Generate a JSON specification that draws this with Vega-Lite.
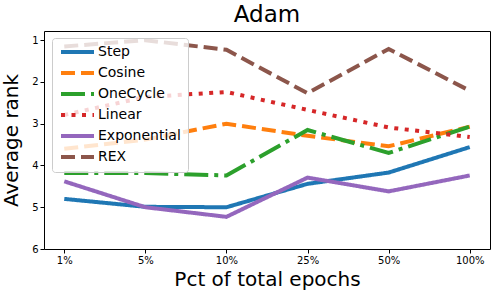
{
  "$schema": "https://vega.github.io/schema/vega-lite/v6.json",
  "autosize": {"type": "none"},
  "padding": {"left": 44, "top": 31, "right": 7, "bottom": 47},
  "width": 446,
  "height": 218,
  "title": {"text": "Adam", "fontSize": 23, "font": "DejaVu Sans", "fontWeight": "normal", "color": "#000", "offset": 4},
  "config": {
    "font": "DejaVu Sans",
    "view": {"stroke": "#000", "strokeWidth": 1},
    "axis": {"grid": false, "domain": false, "tickColor": "#000", "labelColor": "#000", "labelFontSize": 10, "titleFontSize": 20, "titleFontWeight": "normal", "titleColor": "#000", "tickSize": 4}
  },
  "data": {"values": [
    {"pct": "1%", "s": "Step", "r": 4.8},
    {"pct": "5%", "s": "Step", "r": 4.99},
    {"pct": "10%", "s": "Step", "r": 5.0},
    {"pct": "25%", "s": "Step", "r": 4.44},
    {"pct": "50%", "s": "Step", "r": 4.17},
    {"pct": "100%", "s": "Step", "r": 3.56},
    {"pct": "1%", "s": "Cosine", "r": 3.6},
    {"pct": "5%", "s": "Cosine", "r": 3.38},
    {"pct": "10%", "s": "Cosine", "r": 3.0},
    {"pct": "25%", "s": "Cosine", "r": 3.29},
    {"pct": "50%", "s": "Cosine", "r": 3.54},
    {"pct": "100%", "s": "Cosine", "r": 3.07},
    {"pct": "1%", "s": "OneCycle", "r": 4.18},
    {"pct": "5%", "s": "OneCycle", "r": 4.18},
    {"pct": "10%", "s": "OneCycle", "r": 4.24},
    {"pct": "25%", "s": "OneCycle", "r": 3.15},
    {"pct": "50%", "s": "OneCycle", "r": 3.7},
    {"pct": "100%", "s": "OneCycle", "r": 3.07},
    {"pct": "1%", "s": "Linear", "r": 2.79},
    {"pct": "5%", "s": "Linear", "r": 2.36},
    {"pct": "10%", "s": "Linear", "r": 2.24},
    {"pct": "25%", "s": "Linear", "r": 2.67},
    {"pct": "50%", "s": "Linear", "r": 3.09},
    {"pct": "100%", "s": "Linear", "r": 3.32},
    {"pct": "1%", "s": "Exponential", "r": 4.38},
    {"pct": "5%", "s": "Exponential", "r": 5.0},
    {"pct": "10%", "s": "Exponential", "r": 5.23},
    {"pct": "25%", "s": "Exponential", "r": 4.29},
    {"pct": "50%", "s": "Exponential", "r": 4.62},
    {"pct": "100%", "s": "Exponential", "r": 4.24},
    {"pct": "1%", "s": "REX", "r": 1.15},
    {"pct": "5%", "s": "REX", "r": 1.0},
    {"pct": "10%", "s": "REX", "r": 1.23},
    {"pct": "25%", "s": "REX", "r": 2.27},
    {"pct": "50%", "s": "REX", "r": 1.21},
    {"pct": "100%", "s": "REX", "r": 2.21}
  ]},
  "mark": {"type": "line", "strokeWidth": 4},
  "encoding": {
    "x": {"field": "pct", "type": "ordinal", "sort": ["1%", "5%", "10%", "25%", "50%", "100%"],
          "scale": {"type": "point", "padding": 0.25},
          "axis": {"title": "Pct of total epochs", "labelAngle": 0, "titlePadding": 4}},
    "y": {"field": "r", "type": "quantitative",
          "scale": {"domain": [0.78, 6], "reverse": true, "nice": false, "zero": false},
          "axis": {"title": "Average rank", "values": [1, 2, 3, 4, 5, 6], "titlePadding": 10}},
    "color": {"field": "s", "type": "nominal",
              "scale": {"domain": ["Step", "Cosine", "OneCycle", "Linear", "Exponential", "REX"],
                        "range": ["#1f77b4", "#ff7f0e", "#2ca02c", "#d62728", "#9467bd", "#8c564b"]},
              "legend": {"title": null, "orient": "none", "legendX": 8, "legendY": 7, "padding": 7,
                         "fillColor": "rgba(255,255,255,0.8)", "strokeColor": "#ccc", "cornerRadius": 3,
                         "symbolType": "M-1,0H5.6", "symbolSize": 100, "symbolStrokeWidth": 4,
                         "labelFontSize": 14, "labelColor": "#000", "rowPadding": 5, "labelOffset": 25}},
    "strokeDash": {"field": "s", "type": "nominal",
                   "scale": {"domain": ["Step", "Cosine", "OneCycle", "Linear", "Exponential", "REX"],
                             "range": [[1, 0], [14, 6], [24, 6, 4, 6], [4, 6.5], [1, 0], [14, 6]]},
                   "legend": {"title": null, "orient": "none", "legendX": 8, "legendY": 7}}
  }
}
